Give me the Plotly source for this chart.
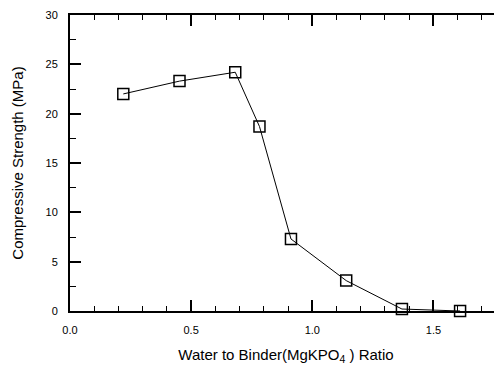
import plotly.graph_objects as go

ratio = [0.22, 0.452, 0.682, 0.782, 0.912, 1.14, 1.37, 1.61]
strength = [22.0, 23.3, 24.2, 18.7, 7.3, 3.08, 0.2, 0.0]
x_ticks = [0.0, 0.5, 1.0, 1.5]
x_tick_labels = ["0.0", "0.5", "1.0", "1.5"]
y_ticks = [0, 5, 10, 15, 20, 25, 30]

fig = go.Figure()
fig.add_trace(go.Scatter(
    x=ratio, y=strength, mode="lines+markers",
    line=dict(color="black", width=1),
    marker=dict(symbol="square-open", size=11, color="black", line=dict(width=1.5)),
    cliponaxis=False, showlegend=False,
))

font = dict(family="Liberation Sans, Arial, sans-serif", color="black")
fig.update_layout(
    width=494, height=364,
    margin=dict(l=62, r=0, t=7, b=61, autoexpand=False),
    paper_bgcolor="white", plot_bgcolor="white",
    font=dict(size=11, **font),
    xaxis=dict(
        range=[0, 1.783], tickvals=x_ticks, ticktext=x_tick_labels,
        ticks="inside", ticklen=11, tickwidth=1.5, tickcolor="black",
        minor=dict(dtick=0.1, tick0=0, ticks="inside", ticklen=5, tickwidth=1, tickcolor="black"),
        showline=True, linecolor="black", linewidth=2, mirror="ticks",
        showgrid=False, zeroline=False, automargin=False,
        title=dict(text="Water to Binder(MgKPO<sub>4</sub> ) Ratio", font=dict(size=15), standoff=14),
        tickfont=dict(size=11), ticklabelstandoff=8, ticklabeloverflow="allow",
    ),
    yaxis=dict(
        range=[0, 30], tickvals=y_ticks,
        ticks="inside", ticklen=11, tickwidth=1.5, tickcolor="black",
        minor=dict(dtick=2.5, tick0=0, ticks="inside", ticklen=6, tickwidth=1, tickcolor="black"),
        showline=True, linecolor="black", linewidth=2,
        showgrid=False, zeroline=False, automargin=False,
        title=dict(text="Compressive Strength (MPa)", font=dict(size=15), standoff=18),
        tickfont=dict(size=11), ticklabelstandoff=8, ticklabeloverflow="allow",
    ),
)
fig.write_html("out.html")
